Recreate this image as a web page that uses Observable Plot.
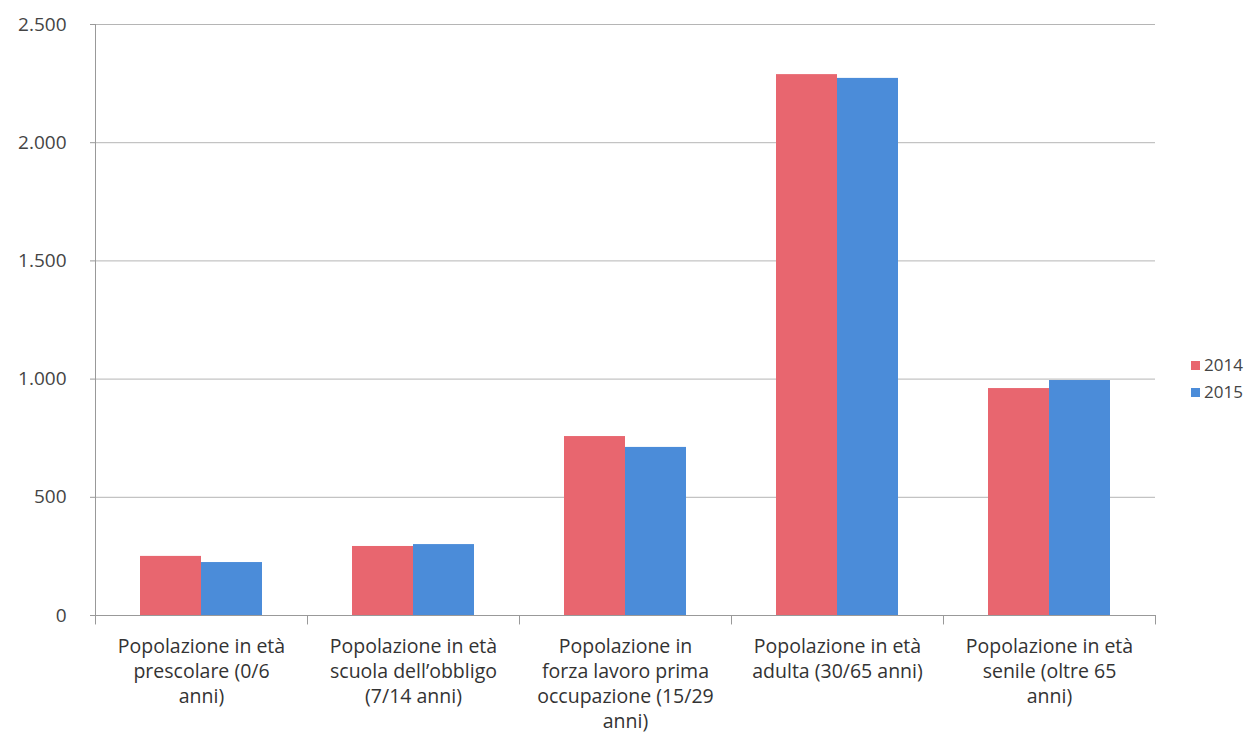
<!DOCTYPE html>
<html>
<head>
<meta charset="utf-8">
<script src="https://cdn.jsdelivr.net/npm/d3@7"></script>
<script src="https://cdn.jsdelivr.net/npm/@observablehq/plot@0.6"></script>
<style>
  html, body { margin: 0; padding: 0; background: #fff; }
  #wrap { position: relative; width: 1256px; height: 753px; font-family: "Open Sans", sans-serif; }
  #legend { position: absolute; left: 1191px; top: 351px; font-size: 17px; color: #444; line-height: 27px; }
  #legend .sw { display: inline-block; width: 9px; height: 9px; margin-right: 4px; vertical-align: 1px; }
</style>
</head>
<body>
<div id="wrap"><div id="legend"></div></div>
<script>
const categories = [
  "Popolazione in età\nprescolare (0/6\nanni)",
  "Popolazione in età\nscuola dell’obbligo\n(7/14 anni)",
  "Popolazione in\nforza lavoro prima\noccupazione (15/29\nanni)",
  "Popolazione in età\nadulta (30/65 anni)",
  "Popolazione in età\nsenile (oltre 65\nanni)"
];
const years = ["2014", "2015"];
const values2014 = [250, 292, 757, 2288, 960];
const values2015 = [224, 300, 711, 2272, 994];
const yTicks = [0, 500, 1000, 1500, 2000, 2500];
const colors = ["#e8666f", "#4b8cd9"];

const data = [];
categories.forEach((c, i) => {
  data.push({category: c, year: years[0], value: values2014[i]});
  data.push({category: c, year: years[1], value: values2015[i]});
});

const it = d3.formatLocale({decimal: ",", thousands: ".", grouping: [3], currency: ["€", ""]});
const fmt = it.format(",");

const W = 1256, H = 753;
const mL = 95, mR = 101, mT = 24, mB = 138;
const step = (W - mL - mR) / categories.length;
const bw = 61;
const side = (step - 2 * bw) / 2;

const plot = Plot.plot({
  width: W,
  height: H,
  marginLeft: mL,
  marginRight: mR,
  marginTop: mT,
  marginBottom: mB,
  style: {fontFamily: "'Open Sans', sans-serif", fontSize: "18px", color: "#444", background: "#fff"},
  x: {domain: categories, padding: 0, label: null},
  y: {domain: [0, 2500], label: null},
  color: {domain: years, range: colors},
  marks: [
    Plot.ruleY(yTicks.filter(d => d > 0), {stroke: "#b5b5b5", strokeWidth: 1}),
    Plot.barY(data.filter(d => d.year === years[0]), {x: "category", y: "value", fill: "year", insetLeft: side, insetRight: side + bw}),
    Plot.barY(data.filter(d => d.year === years[1]), {x: "category", y: "value", fill: "year", insetLeft: side + bw, insetRight: side}),
    Plot.ruleY([0], {stroke: "#999", strokeWidth: 1}),
    // y axis line
    Plot.ruleX([categories[0]], {x: d => d, dx: -step / 2, y1: 0, y2: 2500, stroke: "#999"}),
    // category boundary ticks
    Plot.ruleX(categories, {x: d => d, dx: -step / 2, y1: 0, y2: -40, stroke: "#999"}),
    Plot.ruleX([categories[categories.length - 1]], {x: d => d, dx: step / 2, y1: 0, y2: -40, stroke: "#999"}),
    Plot.axisX({tickSize: 0, tickPadding: 20, fontSize: 19.5, lineHeight: 1.28, fill: "#333"}),
    Plot.axisY({ticks: yTicks, tickFormat: fmt, tickSize: 5, tickPadding: 24, fontSize: 19, fill: "#444", stroke: "#999"})
  ]
});
document.getElementById("wrap").prepend(plot);

const legend = document.getElementById("legend");
years.forEach((y, i) => {
  const row = document.createElement("div");
  row.innerHTML = `<span class="sw" style="background:${colors[i]}"></span>${y}`;
  legend.appendChild(row);
});
</script>
</body>
</html>
